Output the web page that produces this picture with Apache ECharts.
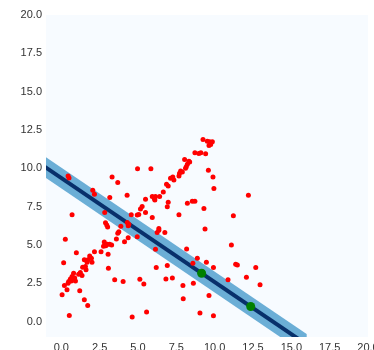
<!DOCTYPE html>
<html><head><meta charset="utf-8">
<script src="https://cdn.jsdelivr.net/npm/echarts@6/dist/echarts.min.js"></script>
<style>html,body{margin:0;padding:0;background:#fff}#c{width:374px;height:350px}</style>
</head><body><div id="c"></div>
<script>
const tickValues = [0, 2.5, 5, 7.5, 10, 12.5, 15, 17.5, 20];
const redX = [0.44,0.50,2.05,2.16,3.16,0.70,2.83,2.88,2.96,3.02,
  4.97,5.84,3.31,3.68,6.86,6.97,6.65,4.29,5.49,5.93,6.06,6.14,6.10,6.41,6.91,6.97,5.16,5.27,5.49,5.05,4.95,4.56,5.93,3.88,4.30,4.40,4.36,6.36,
  9.24,9.52,9.67,9.85,9.74,9.63,8.71,8.97,9.10,9.41,8.04,8.32,8.37,8.22,8.15,8.10,9.59,7.78,7.89,7.71,7.67,9.89,7.12,7.27,7.34,9.95,8.22,8.54,8.71,9.30,7.67,9.37,
  12.2,11.22,
  0.26,0.98,0.15,2.16,2.59,2.80,2.90,3.00,3.15,3.28,2.75,3.05,3.07,1.85,1.96,1.74,1.50,1.68,2.0,1.57,1.39,1.61,1.24,1.13,1.35,0.80,0.70,0.87,0.59,0.92,0.48,0.65,0.44,0.20,0.37,0.05,1.2,1.50,1.72,0.52,
  3.75,3.68,3.59,4.12,4.36,4.95,3.48,4.03,5.12,5.38,4.62,5.56,6.14,6.19,6.91,6.82,6.36,6.25,6.75,
  8.17,8.87,8.58,9.46,9.92,7.24,10.87,7.93,8.61,9.63,7.95,9.04,9.92,
  11.09,11.37,11.48,12.68,12.07,12.96];
const redY = [9.50,9.37,8.57,8.31,8.10,6.97,7.12,6.45,6.30,6.18,
  9.98,9.98,9.44,9.07,8.96,8.85,8.46,8.25,7.99,8.16,8.03,8.16,7.94,8.16,7.49,7.79,7.34,7.51,7.12,6.99,6.95,6.97,6.80,6.22,6.47,6.36,6.25,6.08,
  11.88,11.77,11.73,11.73,11.56,11.49,11.02,10.97,11.02,10.95,10.58,10.47,10.41,10.26,10.11,10.0,9.87,9.82,9.76,9.68,9.50,9.44,9.35,9.44,9.24,8.68,7.73,7.86,7.86,7.38,6.97,6.05,
  8.25,6.9,
  5.37,4.50,3.85,4.56,4.56,5.20,4.95,5.05,5.05,5.00,4.92,4.40,3.49,4.29,4.13,4.03,4.03,3.88,3.88,3.59,3.55,3.38,3.20,3.10,3.01,3.16,2.94,2.84,2.79,2.66,2.62,2.66,2.51,2.36,2.08,1.75,2.01,1.43,1.06,0.41,
  5.86,5.76,5.39,5.21,5.47,5.54,2.73,2.62,2.77,2.45,0.31,0.63,4.72,3.53,3.66,2.79,5.97,5.82,5.82,
  4.74,4.13,3.81,3.88,3.53,2.84,2.73,2.36,2.51,1.71,1.49,0.56,0.39,
  5.0,3.75,3.70,3.53,2.90,2.40];
const greenX = [9.15, 12.35];
const greenY = [3.16, 0.99];
const lineX = [-2, 16];
const lineY = [10.72, -1.49];
const bandHalf = [0.68];

const pairs = (xs, ys) => xs.map((x, i) => [x, ys[i]]);
const chart = echarts.init(document.getElementById('c'), null, {renderer: 'canvas'});
const axisCommon = {
  type: 'value', min: -1, max: 20,
  axisLine: {show: false}, axisTick: {show: false}, splitLine: {show: false},
  axisLabel: {
    customValues: tickValues, showMinLabel: true, showMaxLabel: true,
    color: '#333', fontFamily: 'Liberation Sans', fontSize: 11,
    formatter: v => Number(v).toFixed(1)
  }
};
function bandItem(params, api) {
  const h = bandHalf[0];
  const pts = [
    api.coord([lineX[0], lineY[0] + h]), api.coord([lineX[1], lineY[1] + h]),
    api.coord([lineX[1], lineY[1] - h]), api.coord([lineX[0], lineY[0] - h])
  ];
  return {type: 'polygon', shape: {points: pts}, style: {fill: '#6baed6', stroke: null}};
}
function lineItem(params, api) {
  return {type: 'polyline', shape: {points: [api.coord([lineX[0], lineY[0]]), api.coord([lineX[1], lineY[1]])]},
          style: {stroke: '#08306b', lineWidth: 4, fill: null}};
}
chart.setOption({
  animation: false,
  grid: {left: 46, right: 6, top: 15, bottom: 13, show: true, backgroundColor: '#f7fbff', borderWidth: 0,
         containLabel: false, outerBoundsMode: 'none'},
  xAxis: Object.assign({}, axisCommon, {axisLabel: Object.assign({}, axisCommon.axisLabel, {margin: 5})}),
  yAxis: Object.assign({}, axisCommon, {axisLabel: Object.assign({}, axisCommon.axisLabel, {margin: 4})}),
  series: [
    {type: 'custom', data: [0], renderItem: bandItem, clip: true, z: 1, silent: true},
    {type: 'custom', data: [0], renderItem: lineItem, clip: true, z: 2, silent: true},
    {type: 'scatter', data: pairs(redX, redY), symbolSize: 5, z: 3,
     itemStyle: {color: '#ff0000', opacity: 1}},
    {type: 'scatter', data: pairs(greenX, greenY), symbolSize: 9, z: 4,
     itemStyle: {color: '#008000', opacity: 1}}
  ]
});
</script></body></html>
